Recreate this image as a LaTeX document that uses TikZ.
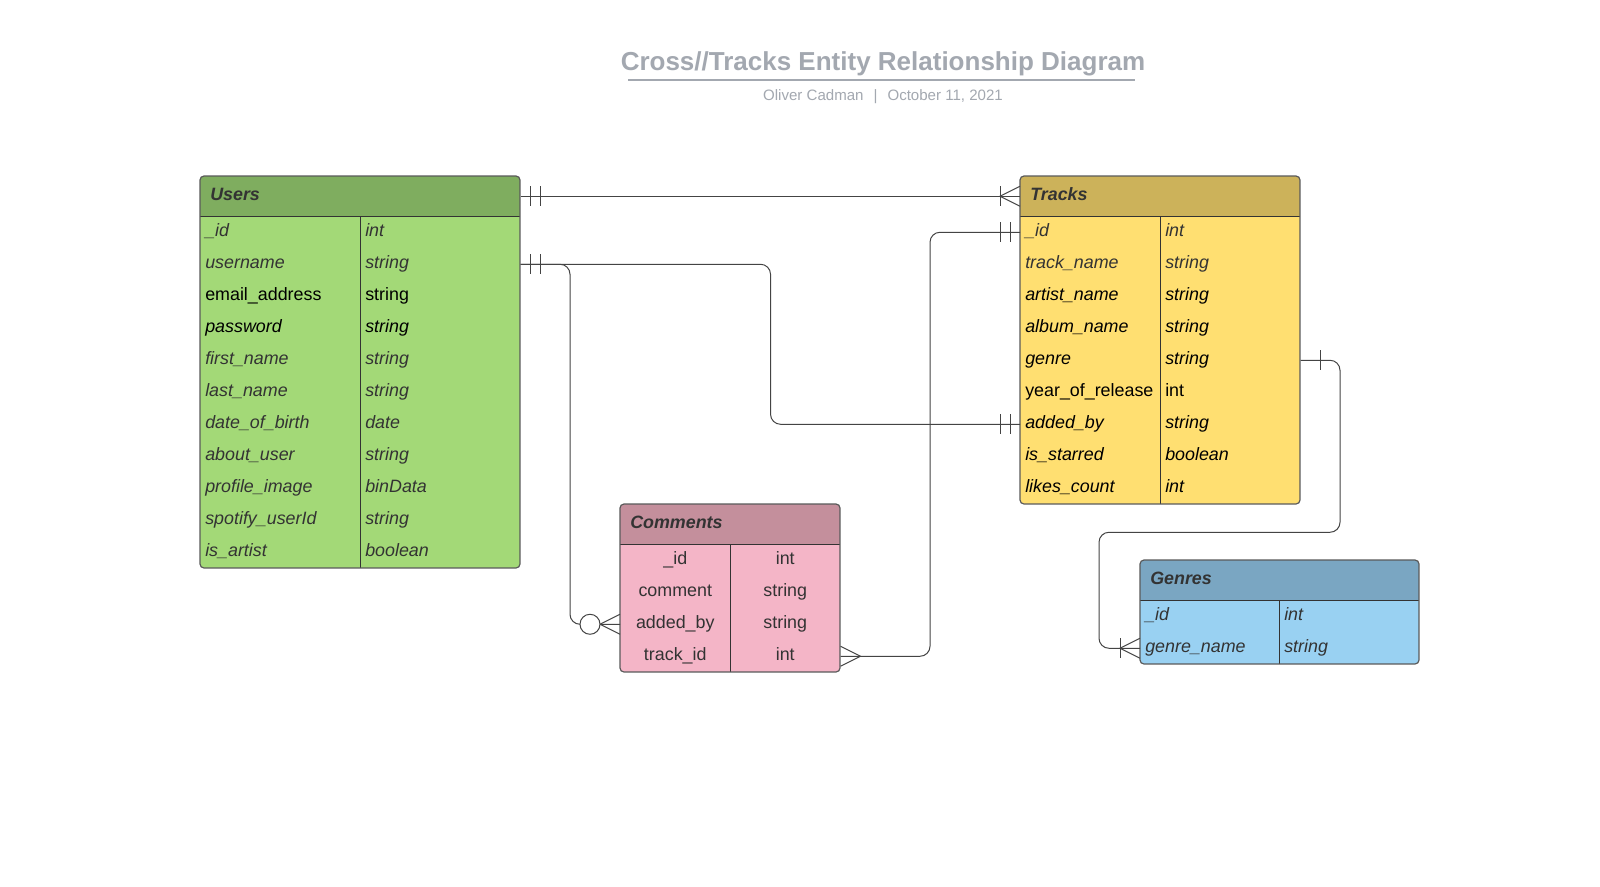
\documentclass[tikz,border=0pt]{standalone}
\usepackage{fontspec}
\setmainfont{Liberation Sans}
\usetikzlibrary{calc}
\definecolor{uhead}{HTML}{7FAD5F}
\definecolor{ubody}{HTML}{A3D977}
\definecolor{thead}{HTML}{CCB25A}
\definecolor{tbody}{HTML}{FFDF71}
\definecolor{chead}{HTML}{C48F9C}
\definecolor{cbody}{HTML}{F4B5C7}
\definecolor{ghead}{HTML}{7AA6C2}
\definecolor{gbody}{HTML}{99D1F2}
\definecolor{ink}{HTML}{333333}
\definecolor{titlegray}{HTML}{A3A8B0}
\definecolor{lineink}{HTML}{444444}
\definecolor{bordergray}{HTML}{5A5A5A}
\newcommand{\rowfont}{\fontsize{13.4}{16}\selectfont}
\newcommand{\mkbar}[2]{\draw[conn] ($(#1)+({#2},-10)$) -- ($(#1)+({#2},10)$);}
\newcommand{\mkcrow}[2]{\draw[conn] ($(#1)+(0,-10)$) -- ($(#1)+({20*(#2)},0)$) -- ($(#1)+(0,10)$);}
\newcommand{\mkcirc}[2]{\draw[conn, fill=white] ($(#1)+({30*(#2)},0)$) circle[radius=7.5pt];}
\newcommand{\ertbl}[7]{%
  \begin{scope}
    \clip[rounded corners=3pt] (#1,#2) rectangle (#3,#4);
    \fill[#7] (#1,#2) rectangle (#3,#4);
    \fill[#6] (#1,#2) rectangle (#3,{#2+40});
  \end{scope}
  \draw[innerline] (#1,{#2+40}) -- (#3,{#2+40});
  \draw[innerline] (#5,{#2+40}) -- (#5,#4);
  \draw[outerline, rounded corners=3pt] (#1,#2) rectangle (#3,#4);
}
\begin{document}
\begin{tikzpicture}[x=0.75pt,y=-0.75pt,
  conn/.style={draw=lineink, line width=0.75pt},
  route/.style={conn, rounded corners=7.5pt},
  innerline/.style={draw=ink, line width=0.75pt},
  outerline/.style={draw=bordergray, line width=0.9pt},
  hdr/.style={anchor=north west, minimum height=30pt, inner xsep=7.5pt, inner ysep=0pt,
    align=left, font=\rowfont\bfseries\itshape, text=ink, text height=9.6pt, text depth=2.8pt},
  cellL/.style={anchor=north west, inner xsep=3.75pt, inner ysep=0pt, minimum height=24pt,
    align=left, text height=9.6pt, text depth=2.8pt},
  cellC/.style={cellL, align=center},
  gi/.style={font=\rowfont\itshape, text=ink},
  bi/.style={font=\rowfont\itshape, text=black},
  br/.style={font=\rowfont, text=black},
  gr/.style={font=\rowfont, text=ink},
  ucol/.style={text width=112.5pt},
  tcol/.style={text width=97.5pt},
  ccol/.style={text width=75pt},
  gcolA/.style={text width=96.75pt},
  gcolB/.style={text width=97.5pt},
  titlestyle/.style={font=\fontsize{19.5}{23}\selectfont\bfseries, text=titlegray, inner sep=0pt},
  substyle/.style={font=\fontsize{11.3}{13.5}\selectfont, text=titlegray, inner sep=0pt},
]
\fill[white] (0,0) rectangle (1600,886);
\useasboundingbox (0,0) rectangle (1600,886);

% title
\node[titlestyle] (title) at (883,64) {Cross//Tracks Entity Relationship Diagram};
\draw[draw=titlegray, line width=1.4pt] (628,80) -- (1135,80);
\node[substyle] (subtitle) at (883,97) {Oliver Cadman\hspace{7.5pt}|\hspace{7.5pt}October 11, 2021};

% tables
\ertbl{200}{176}{520}{568}{360}{uhead}{ubody}
\ertbl{1020}{176}{1300}{504}{1160}{thead}{tbody}
\ertbl{620}{504}{840}{672}{730}{chead}{cbody}
\ertbl{1140}{560}{1419}{664}{1279}{ghead}{gbody}

\node[hdr, text width=225pt] (users) at (200,176) {Users};
\node[hdr, text width=195pt] (tracks) at (1020,176) {Tracks};
\node[hdr, text width=150pt] (comments) at (620,504) {Comments};
\node[hdr, text width=194.25pt] (genres) at (1140,560) {Genres};

\foreach \n/\t/\s [count=\i from 0] in {\_id/int/gi, username/string/gi, email\_address/string/br,
    password/string/bi, first\_name/string/gi, last\_name/string/gi, date\_of\_birth/date/gi,
    about\_user/string/gi, profile\_image/binData/gi, spotify\_userId/string/gi, is\_artist/boolean/gi}{
  \node[cellL, ucol, \s] (u-\i-n) at (200,{216+32*\i}) {\n};
  \node[cellL, ucol, \s] (u-\i-t) at (360,{216+32*\i}) {\t};
}
\foreach \n/\t/\s [count=\i from 0] in {\_id/int/gi, track\_name/string/gi, artist\_name/string/bi,
    album\_name/string/bi, genre/string/bi, year\_of\_release/int/br, added\_by/string/bi,
    is\_starred/boolean/bi, likes\_count/int/bi}{
  \node[cellL, tcol, \s] (t-\i-n) at (1020,{216+32*\i}) {\n};
  \node[cellL, tcol, \s] (t-\i-t) at (1160,{216+32*\i}) {\t};
}
\foreach \n/\t [count=\i from 0] in {\_id/int, comment/string, added\_by/string, track\_id/int}{
  \node[cellC, ccol, gr] (c-\i-n) at (620,{544+32*\i}) {\n};
  \node[cellC, ccol, gr] (c-\i-t) at (730,{544+32*\i}) {\t};
}
\foreach \n/\t [count=\i from 0] in {\_id/int, genre\_name/string}{
  \node[cellL, gcolA, gi] (g-\i-n) at (1140,{600+32*\i}) {\n};
  \node[cellL, gcolB, gi] (g-\i-t) at (1279,{600+32*\i}) {\t};
}

% connectors
% Users -- Tracks (header)
\draw[conn] (users.east) -- (tracks.west);
\mkbar{users.east}{10}
\mkbar{users.east}{20}
\mkcrow{tracks.west}{-1}
\mkbar{tracks.west}{-20}

% Users.username -- Comments.added_by
\draw[route] (u-1-t.east) -| ($(c-2-n.west)+(-50,0)$) -- (c-2-n.west);
\mkcrow{c-2-n.west}{-1}
\mkcirc{c-2-n.west}{-1}

% Users.username -- Tracks.added_by
\draw[route] (u-1-t.east) -- +(250,0) |- (t-6-n.west);
\mkbar{u-1-t.east}{10}
\mkbar{u-1-t.east}{20}
\mkbar{t-6-n.west}{-10}
\mkbar{t-6-n.west}{-20}

% Tracks._id -- Comments.track_id
\draw[route] (t-0-n.west) -- +(-90,0) |- (c-3-t.east);
\mkbar{t-0-n.west}{-10}
\mkbar{t-0-n.west}{-20}
\mkcrow{c-3-t.east}{1}

% Tracks.genre -- Genres.genre_name
\draw[route] (t-4-t.east) -| ($(g-1-n.west)+(200,-116)$) -| ($(g-1-n.west)+(-41,0)$) -- (g-1-n.west);
\mkbar{t-4-t.east}{20}
\mkcrow{g-1-n.west}{-1}
\mkbar{g-1-n.west}{-20}
\end{tikzpicture}
\end{document}
